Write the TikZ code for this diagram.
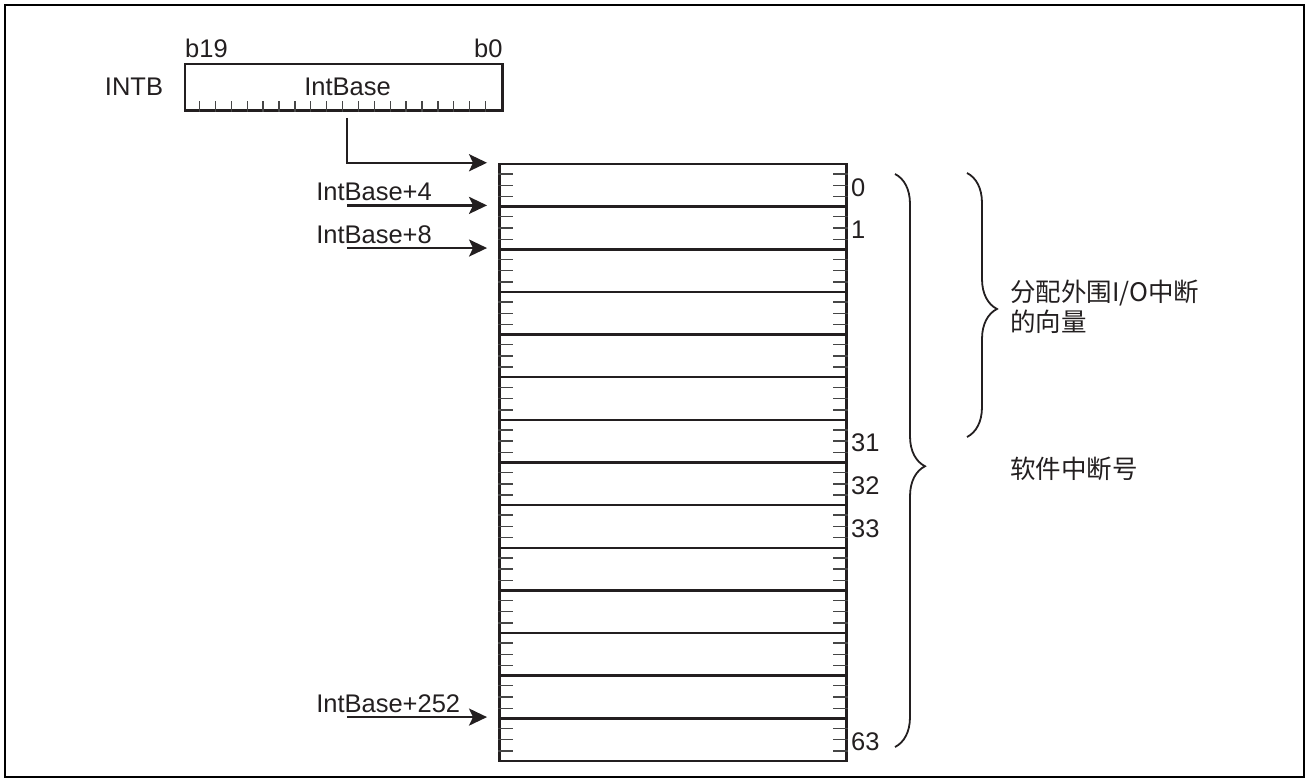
\documentclass[tikz,border=0pt]{standalone}
\usepackage{fontspec}
\setmainfont{Liberation Sans}
\newfontfamily\cjk{Noto Sans CJK SC}
\usetikzlibrary{positioning, arrows.meta, calc, decorations.pathreplacing}
\definecolor{ink}{RGB}{35,31,32}
\definecolor{notchgray}{RGB}{70,70,70}

\begin{document}
\begin{tikzpicture}[x=1pt, y=-1pt,
  every node/.style={font=\fontsize{25.5}{30}\selectfont, text=ink, inner sep=0pt},
  slot/.style={draw=ink, line width=2.5pt, minimum width=347.4pt, minimum height=42.64pt},
  notch/.style={notchgray, line width=1.4pt},
  ptr/.style={ink, line width=2.5pt, -{Stealth[length=18pt, width=17pt, inset=4pt]}},
  curly/.style={ink, line width=1.8pt, decorate, decoration={brace, amplitude=30pt, aspect=#1}}]
  \useasboundingbox (0,0) rectangle (1306,782);
  \draw[line width=2.6pt] (5,5) rectangle (1304,777);

  \node[draw=ink, line width=2.5pt, minimum width=317.7pt, minimum height=46.7pt] (intb) at (343.8,87.3) {};
  \foreach \k in {1,...,19}
    \draw[notch] ($(intb.south west)+(15.885*\k,0)$) -- ++(0,-11);
  \node (regtext) at (347.5,86.7) {IntBase};
  \node[anchor=west] (msb) at (185,48) {b19};
  \node[anchor=east] (lsb) at (502.7,48) {b0};
  \node (regname) at (134,87) {INTB};

  \foreach \i in {0,...,13}
    \node[slot] (r\i) at (673,185.32+42.64*\i) {};
  \foreach \i in {0,...,13}
    \foreach \k in {1,2,3} {
      \draw[notch] ($(r\i.north west)!\k/4!(r\i.south west)$) -- ++(15,0);
      \draw[notch] ($(r\i.north east)!\k/4!(r\i.south east)$) -- ++(-15,0);
    }
  \foreach \i/\n in {0/0, 1/1, 6/31, 7/32, 8/33, 13/63}
    \node[anchor=west] (n\n) at ([xshift=3pt,yshift=-2pt]r\i.east) {\n};

  \draw[ptr] ([xshift=3pt,yshift=-6pt]intb.south) |- ([xshift=-11pt]r0.north west);
  \foreach \i/\off in {1/4, 2/8, 13/252} {
    \draw[ptr] ([xshift=-151pt]r\i.north west) -- ([xshift=-11pt]r\i.north west);
    \node[anchor=base west] (a\off) at ([xshift=-182pt,yshift=5pt]r\i.north west) {IntBase+\off};
  }

  \draw[curly=0.51] (895,174) -- (895,747);
  \draw[curly=0.515] (967,173) -- (967,437);
  \node[anchor=west, align=left, font=\cjk\fontsize{25.5}{30}\selectfont] (periph) at (1010,307) {分配外围I/O中断\\的向量};
  \node[anchor=west, font=\cjk\fontsize{25.5}{30}\selectfont] (swint) at (1010,469) {软件中断号};
\end{tikzpicture}
\end{document}
